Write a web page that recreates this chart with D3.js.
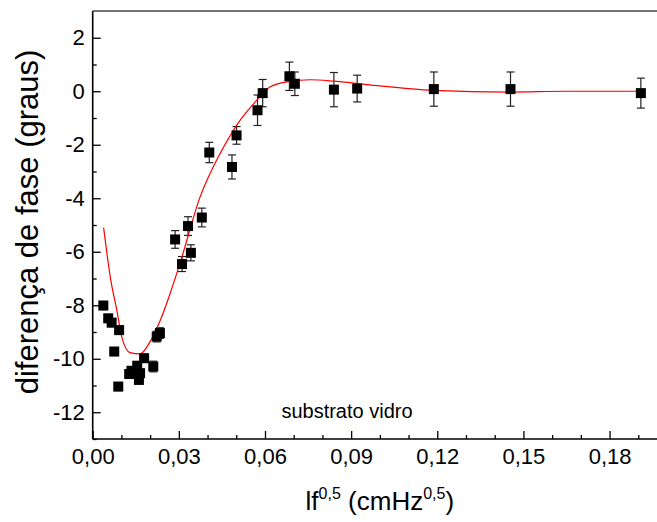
<!DOCTYPE html>
<html><head><meta charset="utf-8">
<script src="https://cdn.jsdelivr.net/npm/d3@7"></script>
<style>html,body{margin:0;padding:0;background:#fff;}svg{display:block;font-family:Arial,"Liberation Sans",sans-serif;}</style>
</head><body>
<svg id="c" width="657" height="522"></svg>
<script>
const xVals = [0.0037,0.0054,0.0066,0.0075,0.0089,0.0092,0.0127,0.0135,0.0155,0.0161,0.0165,0.0179,0.0211,0.0223,0.0234,0.0287,0.0311,0.0332,0.0342,0.0380,0.0406,0.0485,0.0501,0.0574,0.0592,0.0685,0.0704,0.0840,0.0921,0.1188,0.1455,0.1909];
const yVals = [-8.01,-8.49,-8.65,-9.73,-11.04,-8.93,-10.57,-10.45,-10.26,-10.79,-10.54,-9.98,-10.29,-9.17,-9.04,-5.54,-6.46,-5.04,-6.04,-4.72,-2.29,-2.83,-1.65,-0.71,-0.07,0.56,0.28,0.06,0.10,0.08,0.08,-0.07];
const errVals = [0.15,0.15,0.15,0.15,0.15,0.15,0.15,0.15,0.15,0.15,0.15,0.15,0.2,0.2,0.2,0.33,0.28,0.35,0.3,0.35,0.38,0.45,0.33,0.57,0.51,0.53,0.44,0.64,0.5,0.64,0.64,0.56];
const fitX = [0.0038,0.0063,0.0084,0.0101,0.0130,0.0165,0.0200,0.0234,0.0270,0.0304,0.0374,0.0440,0.0490,0.0513,0.0571,0.0617,0.0687,0.0757,0.0838,0.0954,0.1186,0.1450,0.1650,0.1910];
const fitY = [-5.1,-7.06,-8.18,-9.17,-9.77,-9.82,-9.36,-8.6,-7.55,-6.43,-3.95,-2.4,-1.46,-1.09,-0.34,0.16,0.37,0.43,0.38,0.25,0.03,-0.03,0.0,0.0];
const xTicks = [0,0.03,0.06,0.09,0.12,0.15,0.18];
const yTicks = [2,0,-2,-4,-6,-8,-10,-12];

const svg = d3.select("#c");
const L = 92.7, R = 667, T = 11, B = 439;
const x = d3.scaleLinear().domain([0,0.2]).range([L,R]);
const y = d3.scaleLinear().domain([-13,3]).range([B,T]);

const fmtX = v => d3.format(".2f")(v).replace(".", ",");
const fmtY = v => String(v);

const xAxis = d3.axisBottom(x).tickValues(xTicks).tickSize(-8).tickPadding(9).tickFormat(fmtX);
const xMinor = d3.axisBottom(x).tickValues(d3.range(0.01,0.2,0.01).filter(v=>Math.round(v*100)%3!==0)).tickSize(-4).tickFormat("");
const yAxis = d3.axisLeft(y).tickValues(yTicks).tickSize(-8).tickPadding(8).tickFormat(fmtY);
const yMinor = d3.axisLeft(y).tickValues(d3.range(-13,3,2)).tickSize(-4).tickFormat("");

function style(g){
  g.select(".domain").remove();
  g.selectAll("line").attr("stroke","#000").attr("stroke-width",1.3);
  g.selectAll("text").attr("font-size",22).attr("fill","#000").attr("font-family","Arial, 'Liberation Sans', sans-serif");
}
svg.append("g").attr("transform",`translate(0,${B})`).call(xAxis).call(style);
svg.append("g").attr("transform",`translate(0,${B})`).call(xMinor).call(style);
svg.append("g").attr("transform",`translate(${L},0)`).call(yAxis).call(style);
svg.append("g").attr("transform",`translate(${L},0)`).call(yMinor).call(style);

svg.append("line").attr("x1",L).attr("x2",L).attr("y1",T).attr("y2",B).attr("stroke","#000").attr("stroke-width",1.6);
svg.append("line").attr("x1",L).attr("x2",R).attr("y1",B).attr("y2",B).attr("stroke","#000").attr("stroke-width",1.6);
svg.append("line").attr("x1",L).attr("x2",R).attr("y1",T).attr("y2",T).attr("stroke","#444").attr("stroke-width",1.6);

const eb = svg.append("g").attr("stroke","#222").attr("stroke-width",1.2);
xVals.forEach((xv,i)=>{
  const cx = x(xv), y1 = y(yVals[i]-errVals[i]), y2 = y(yVals[i]+errVals[i]);
  eb.append("line").attr("x1",cx).attr("x2",cx).attr("y1",y1).attr("y2",y2);
  eb.append("line").attr("x1",cx-4).attr("x2",cx+4).attr("y1",y1).attr("y2",y1);
  eb.append("line").attr("x1",cx-4).attr("x2",cx+4).attr("y1",y2).attr("y2",y2);
});

const line = d3.line().x((d,i)=>x(fitX[i])).y((d,i)=>y(fitY[i])).curve(d3.curveMonotoneX);
svg.append("path").datum(fitX).attr("d",line).attr("fill","none").attr("stroke","#ff0000").attr("stroke-width",1.2);

svg.append("g").selectAll("rect").data(xVals).join("rect")
  .attr("x",(d)=>x(d)-5).attr("y",(d,i)=>y(yVals[i])-5).attr("width",10).attr("height",10).attr("fill","#000");

svg.append("text").attr("x",347).attr("y",418).attr("text-anchor","middle").attr("font-size",20).text("substrato vidro");

svg.append("text").attr("transform",`translate(30,${(T+B)/2 - 3}) rotate(-90)`).attr("text-anchor","middle").attr("dominant-baseline","middle").attr("font-size",31).text("diferença de fase (graus)");

const xt = svg.append("text").attr("x",(L+R)/2).attr("y",510).attr("text-anchor","middle").attr("font-size",26);
xt.append("tspan").text("lf");
xt.append("tspan").attr("font-size",16).attr("dy",-11).text("0,5");
xt.append("tspan").attr("dy",11).text(" (cmHz");
xt.append("tspan").attr("font-size",16).attr("dy",-11).text("0,5");
xt.append("tspan").attr("dy",11).text(")");
</script>
</body></html>
